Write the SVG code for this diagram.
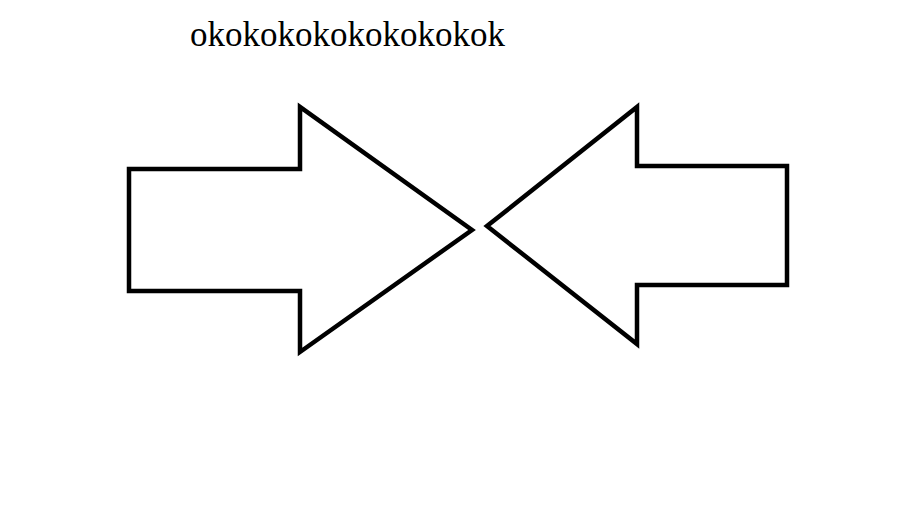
<svg xmlns="http://www.w3.org/2000/svg" width="913" height="523" viewBox="0 0 913 523">
<style>
.arrow{fill:#fff;stroke:#000;stroke-width:4.5;stroke-linejoin:miter}
.title{font-family:"Liberation Serif","Times New Roman",serif;font-size:35px;fill:#000}
</style>
<rect width="913" height="523" fill="#fff"/>
<g id="title"><text class="title" x="190" y="46">okokokokokokokokok</text></g>
<g id="arrow-right"><polygon class="arrow" points="129,169 300,169 300,107 472,230 300,352 300,291 129,291"/></g>
<g id="arrow-left"><polygon class="arrow" points="787,166 637,166 637,107 487,226 637,344 637,285 787,285"/></g>
<g id="connectors"></g>
</svg>
